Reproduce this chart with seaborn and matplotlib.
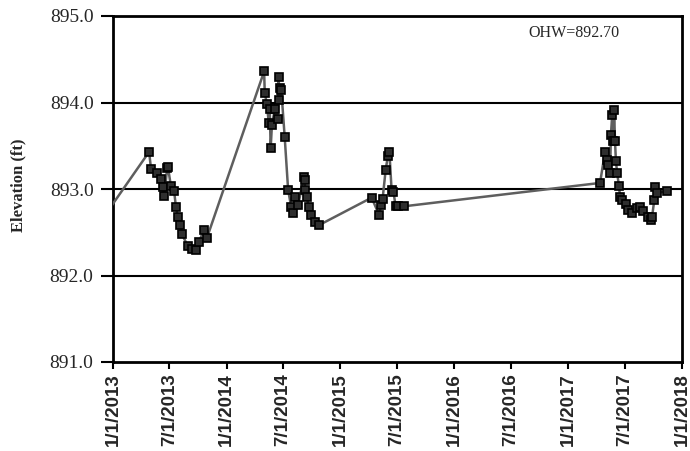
import matplotlib
matplotlib.use("Agg")
import matplotlib.pyplot as plt
import pandas as pd
import seaborn as sns

# Water-surface elevation readings (ft)
dates = [
    "2012-12-01",
    "2013-04-27", "2013-05-03", "2013-05-21", "2013-06-03", "2013-06-10",
    "2013-06-14", "2013-06-24", "2013-06-26", "2013-07-06", "2013-07-16",
    "2013-07-22", "2013-07-28", "2013-08-04", "2013-08-10", "2013-08-29",
    "2013-09-11", "2013-09-25", "2013-10-05", "2013-10-19", "2013-10-29",
    "2014-05-01", "2014-05-03", "2014-05-10", "2014-05-16", "2014-05-19",
    "2014-05-22", "2014-05-26", "2014-06-04", "2014-06-13", "2014-06-17",
    "2014-06-18", "2014-06-20", "2014-06-25", "2014-07-06", "2014-07-17",
    "2014-07-27", "2014-08-02", "2014-08-07", "2014-08-18", "2014-09-05",
    "2014-09-08", "2014-09-10", "2014-09-14", "2014-09-22", "2014-09-30",
    "2014-10-10", "2014-10-23",
    "2015-04-11", "2015-05-05", "2015-05-11", "2015-05-16", "2015-05-26",
    "2015-06-02", "2015-06-07", "2015-06-14", "2015-06-20", "2015-06-27",
    "2015-07-06", "2015-07-24",
    "2017-04-13", "2017-04-29", "2017-05-04", "2017-05-07", "2017-05-15",
    "2017-05-18", "2017-05-22", "2017-05-26", "2017-05-28", "2017-05-31",
    "2017-06-03", "2017-06-07", "2017-06-13", "2017-06-16", "2017-06-23",
    "2017-07-04", "2017-07-13", "2017-07-24", "2017-08-09", "2017-08-19",
    "2017-08-30", "2017-09-15", "2017-09-23", "2017-09-27", "2017-10-04",
    "2017-10-06", "2017-10-12", "2017-11-13",
]
elevations = [
    892.67,
    893.43, 893.23, 893.19, 893.12, 893.02,
    892.92, 893.24, 893.26, 893.03, 892.98,
    892.79, 892.68, 892.58, 892.48, 892.34,
    892.31, 892.30, 892.39, 892.53, 892.43,
    894.36, 894.11, 893.98, 893.76, 893.92,
    893.47, 893.74, 893.92, 893.81, 894.29,
    894.03, 894.17, 894.15, 893.60, 892.99,
    892.79, 892.72, 892.91, 892.81, 893.14,
    893.10, 892.99, 892.91, 892.79, 892.70,
    892.62, 892.58,
    892.90, 892.70, 892.81, 892.88, 893.22,
    893.38, 893.43, 892.99, 892.97, 892.80,
    892.80, 892.80,
    893.07, 893.43, 893.34, 893.28, 893.18,
    893.63, 893.86, 893.55, 893.91, 893.55,
    893.32, 893.18, 893.03, 892.91, 892.87,
    892.83, 892.76, 892.72, 892.78, 892.79,
    892.74, 892.68, 892.64, 892.68, 892.87,
    893.02, 892.95, 892.98,
]

x_ticks = pd.date_range("2013-01-01", "2018-01-01", freq="6MS")
y_ticks = [891.0, 892.0, 893.0, 894.0, 895.0]
ohw_label = "OHW=892.70"
y_label = "Elevation (ft)"

df = pd.DataFrame({"date": pd.to_datetime(dates), "elevation": elevations})

sns.set_theme(style="white")
plt.rcParams["font.family"] = ["Liberation Serif", "DejaVu Serif"]

fig = plt.figure(figsize=(6.9, 4.51), dpi=100)
ax = fig.add_axes([113 / 690, 1 - 362 / 451, (682 - 113) / 690, (362 - 16) / 451])

# Horizontal reference lines at the interior whole-foot elevations
for yv in y_ticks[1:-1]:
    ax.axhline(yv, color="black", lw=1.5, zorder=1)

sns.lineplot(
    data=df, x="date", y="elevation", ax=ax, estimator=None, sort=False,
    color="#5e5e5e", lw=1.8, marker="s", markersize=5.5,
    markerfacecolor="#2e2e2e", markeredgecolor="black", markeredgewidth=1.2,
    zorder=3,
)

ax.set_xlim(pd.Timestamp("2013-01-01"), pd.Timestamp("2018-01-01"))
ax.set_ylim(891.0, 895.0)
ax.set_xticks(x_ticks)
ax.set_xticklabels([f"{d.month}/{d.day}/{d.year}" for d in x_ticks],
                   rotation=90, family="Liberation Sans", fontweight="bold",
                   fontsize=13.5)
ax.set_yticks(y_ticks)
ax.set_yticklabels([f"{v:.1f}" for v in y_ticks], fontsize=14)

ax.tick_params(axis="y", which="major", direction="out", length=9, width=1.5,
               color="black", left=True, pad=5)
ax.tick_params(axis="x", which="major", direction="out", length=5, width=1.5,
               color="black", bottom=True, pad=3)

for side in ["left", "right", "top", "bottom"]:
    ax.spines[side].set_visible(True)
    ax.spines[side].set_color("black")
    ax.spines[side].set_linewidth(2)

ax.set_xlabel("")
ax.set_ylabel(y_label, fontsize=12, fontweight="bold")
ax.yaxis.set_label_coords(-0.152, 0.51)
ax.text(0.81, 0.95, ohw_label, transform=ax.transAxes, ha="center", va="center",
        fontsize=11.5)

fig.savefig("out.png", dpi=100)
